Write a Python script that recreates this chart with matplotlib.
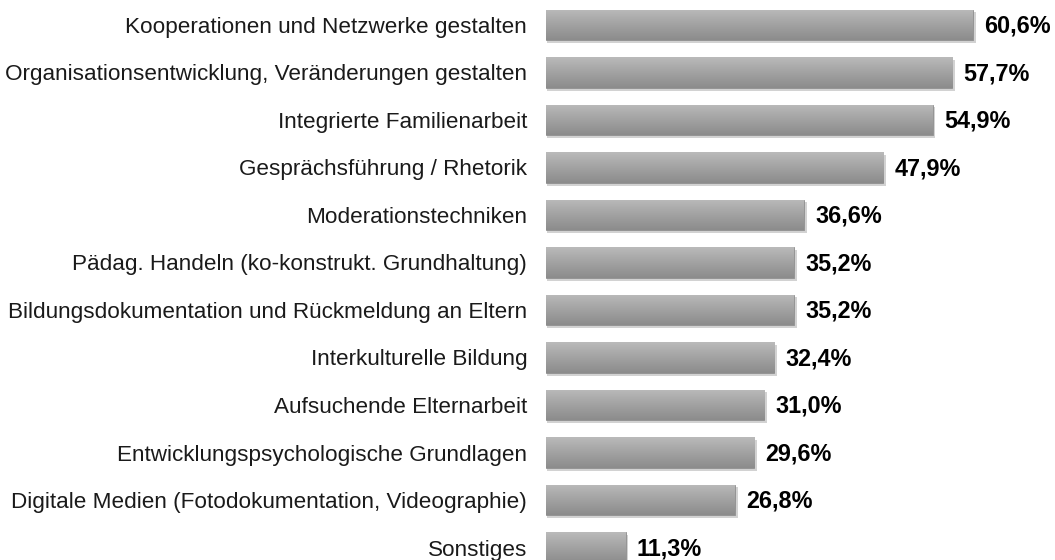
import numpy as np
import matplotlib.pyplot as plt
from matplotlib.colors import LinearSegmentedColormap

plt.rcParams['font.family'] = ['Liberation Sans', 'DejaVu Sans']

# data
categories = ['Kooperationen und Netzwerke gestalten',
              'Organisationsentwicklung, Veränderungen gestalten',
              'Integrierte Familienarbeit',
              'Gesprächsführung / Rhetorik',
              'Moderationstechniken',
              'Pädag. Handeln (ko-konstrukt. Grundhaltung)',
              'Bildungsdokumentation und Rückmeldung an Eltern',
              'Interkulturelle Bildung',
              'Aufsuchende Elternarbeit',
              'Entwicklungspsychologische Grundlagen',
              'Digitale Medien (Fotodokumentation, Videographie)',
              'Sonstiges']
values = [60.6, 57.7, 54.9, 47.9, 36.6, 35.2, 35.2, 32.4, 31.0, 29.6, 26.8, 11.3]

fig = plt.figure(figsize=(10.55, 5.6), dpi=100)
ax = fig.add_axes([0.5175, 0.0, 0.4673, 1.0])

y = np.arange(len(values))
h = 0.65

# soft shadow under the bars
ax.barh(y + 0.06, np.array(values) + 0.25, height=h, left=0.15,
        color='#d2d2d2', edgecolor='none', zorder=1)
bars = ax.barh(y, values, height=h, color='#a5a5a5',
               edgecolor='#8e8e8e', linewidth=0.6, zorder=2)

# vertical gradient (light at top, darker at bottom)
cmap = LinearSegmentedColormap.from_list('g', ['#bababa', '#a2a2a2', '#8c8c8c'])
grad = np.linspace(0, 1, 64).reshape(-1, 1)
for b, v, yy in zip(bars, values, y):
    im = ax.imshow(grad, cmap=cmap, aspect='auto', interpolation='bilinear',
                   extent=(0, v, yy + h / 2, yy - h / 2), zorder=3)
    im.set_clip_path(b)

for v, yy in zip(values, y):
    ax.text(v + 1.6, yy + 0.03, f'{v:.1f}%'.replace('.', ','), va='center', ha='left',
            fontsize=16.8, fontweight='bold', color='#000000')

ax.set_xlim(0, 70)
ax.set_ylim(11.263, -0.526)
ax.set_yticks(y)
ax.set_yticklabels(categories, fontsize=16.2, color='#1a1a1a')
ax.tick_params(axis='y', length=0, pad=13.5)
ax.set_xticks([])
for s in ax.spines.values():
    s.set_visible(False)

fig.savefig('out.png', dpi=100)
